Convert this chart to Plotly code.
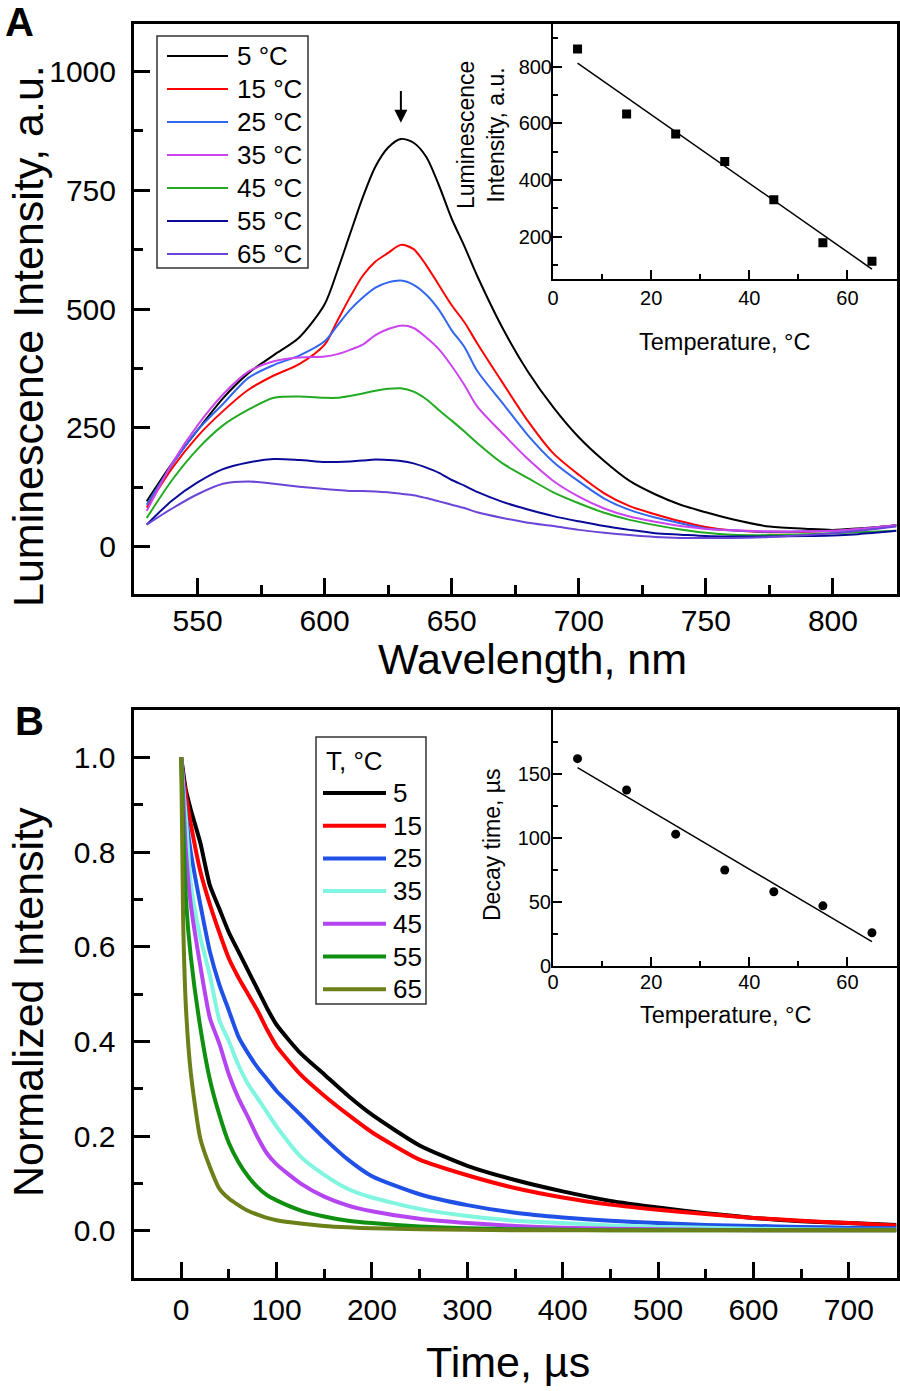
import plotly.graph_objects as go

W, H = 900, 1391
FONT = "Liberation Sans, Arial, sans-serif"

# ---------------- Panel A: luminescence spectra ----------------
wavelength = [530, 540, 550, 560, 570, 580, 590, 600, 605, 610, 615, 620, 625, 630,
              635, 640, 645, 650, 655, 660, 670, 680, 690, 700, 710, 720, 730, 740,
              750, 760, 775, 790, 800, 810, 825]

spec_5 = [95, 175, 245, 312, 365, 403, 440, 510, 580, 658, 735, 800, 840, 858,
          850, 820, 760, 690, 632, 570, 460, 368, 293, 230, 180, 138, 110, 88,
          72, 58, 42, 37, 35, 38, 45]
spec_15 = [82, 165, 232, 285, 330, 360, 384, 425, 475, 525, 570, 600, 618, 635,
           626, 592, 550, 508, 472, 428, 345, 264, 196, 151, 112, 85, 68, 53,
           41, 34, 30, 31, 33, 37, 45]
spec_25 = [88, 172, 245, 300, 355, 382, 402, 432, 465, 498, 524, 545, 556, 560,
           551, 530, 498, 455, 420, 370, 302, 234, 178, 137, 101, 77, 61, 49,
           38, 34, 31, 32, 33, 37, 45]
spec_35 = [75, 175, 255, 320, 368, 390, 398, 400, 405, 414, 425, 445, 458, 465,
           460, 440, 415, 380, 340, 295, 238, 184, 138, 105, 80, 63, 52, 43,
           37, 34, 32, 32, 33, 37, 45]
spec_45 = [60, 140, 205, 255, 288, 313, 316, 313, 313, 317, 322, 328, 332, 333,
           326, 310, 287, 265, 242, 218, 175, 144, 114, 91, 71, 56, 45, 36,
           29, 25, 24, 26, 28, 30, 33]
spec_55 = [46, 97, 135, 163, 177, 184, 182, 178, 178, 179, 181, 183, 182, 180,
           175, 166, 155, 140, 128, 115, 94, 78, 64, 53, 43, 35, 28, 25,
           22, 21, 21, 22, 23, 26, 33]
spec_65 = [46, 80, 110, 132, 137, 132, 126, 121, 119, 117, 117, 116, 114, 111,
           108, 102, 95, 88, 81, 72, 60, 50, 43, 35, 29, 24, 20, 18,
           18, 18, 20, 24, 28, 33, 42]

spectra = [spec_5, spec_15, spec_25, spec_35, spec_45, spec_55, spec_65]
spec_labels = ["5 °C", "15 °C", "25 °C", "35 °C", "45 °C", "55 °C", "65 °C"]
spec_colors = ["#000000", "#ff0000", "#3366ee", "#cc44ee", "#22aa22", "#0a0a99", "#6a45d8"]

# inset A: peak intensity vs temperature
temp_pts = [5, 15, 25, 35, 45, 55, 65]
lum_pts = [862, 632, 562, 465, 330, 178, 113]
fit_T = [5, 65]
lum_fit = [812, 85]

# ---------------- Panel B: decay curves ----------------
time_us = [0, 2, 5, 10, 20, 30, 40, 50, 60, 70, 80, 90, 100, 125, 150, 175, 200,
           250, 300, 350, 400, 450, 500, 550, 600, 650, 700, 750]

decay_5 = [1.0, 0.97, 0.93, 0.89, 0.82, 0.73, 0.68, 0.63, 0.59, 0.55, 0.51, 0.47, 0.435,
           0.375, 0.33, 0.285, 0.245, 0.18, 0.137, 0.107, 0.083, 0.063, 0.049, 0.037,
           0.027, 0.02, 0.016, 0.012]
decay_15 = [1.0, 0.96, 0.92, 0.86, 0.76, 0.69, 0.63, 0.575, 0.535, 0.5, 0.465, 0.425, 0.39,
            0.33, 0.285, 0.245, 0.208, 0.15, 0.117, 0.09, 0.07, 0.055, 0.044, 0.035,
            0.027, 0.021, 0.016, 0.011]
decay_25 = [1.0, 0.95, 0.88, 0.8, 0.69, 0.59, 0.52, 0.465, 0.41, 0.375, 0.345, 0.32, 0.295,
            0.245, 0.195, 0.15, 0.115, 0.077, 0.054, 0.038, 0.028, 0.021, 0.016, 0.012,
            0.01, 0.008, 0.006, 0.005]
decay_35 = [1.0, 0.94, 0.87, 0.735, 0.62, 0.54, 0.445, 0.4, 0.35, 0.31, 0.28, 0.25, 0.22,
            0.157, 0.118, 0.088, 0.07, 0.046, 0.031, 0.021, 0.016, 0.011, 0.008, 0.006,
            0.004, 0.003, 0.002, 0.002]
decay_45 = [1.0, 0.92, 0.8, 0.69, 0.56, 0.45, 0.395, 0.33, 0.28, 0.24, 0.198, 0.163, 0.14,
            0.1, 0.072, 0.053, 0.041, 0.025, 0.016, 0.01, 0.006, 0.004, 0.003, 0.002,
            0.001, 0.001, 0.001, 0.001]
decay_55 = [1.0, 0.86, 0.7, 0.58, 0.43, 0.32, 0.245, 0.185, 0.145, 0.115, 0.092, 0.075, 0.064,
            0.043, 0.03, 0.021, 0.016, 0.009, 0.005, 0.003, 0.002, 0.001, 0.001, 0.001,
            0.001, 0.001, 0.001, 0.001]
decay_65 = [1.0, 0.66, 0.47, 0.335, 0.195, 0.135, 0.089, 0.068, 0.054, 0.042, 0.034, 0.027, 0.022,
            0.015, 0.01, 0.007, 0.005, 0.003, 0.002, 0.001, 0.001, 0.001, 0.001, 0.001,
            0.001, 0.001, 0.001, 0.001]

decays = [decay_5, decay_15, decay_25, decay_35, decay_45, decay_55, decay_65]
decay_labels = ["5", "15", "25", "35", "45", "55", "65"]
decay_colors = ["#000000", "#ff0000", "#2050e6", "#80f5e0", "#b545f0", "#109010", "#6b8018"]

# inset B: decay time vs temperature
tau_pts = [162, 137.5, 103, 75, 58, 47, 26]
tau_fit = [155, 19]


def fx(p):
    return p / W


def fy(p):
    return 1 - p / H


def ax_style(size, tlen, mlen, lw, dtick, mdtick, rng):
    return dict(range=rng, showline=True, linecolor="black", linewidth=lw, mirror=True,
                ticks="inside", ticklen=tlen, tickwidth=lw, tickcolor="black",
                dtick=dtick, tick0=0, showgrid=False, zeroline=False, automargin=False,
                minor=dict(ticks="inside", ticklen=mlen, tickwidth=lw, dtick=mdtick,
                           tickcolor="black", showgrid=False),
                tickfont=dict(family=FONT, size=size, color="black"))


fig = go.Figure()

for vals, name, col in zip(spectra, spec_labels, spec_colors):
    fig.add_trace(go.Scatter(x=wavelength, y=vals, mode="lines", name=name,
                             line=dict(color=col, width=2, shape="spline", smoothing=0.8),
                             xaxis="x", yaxis="y"))

fig.add_trace(go.Scatter(x=fit_T, y=lum_fit, mode="lines", line=dict(color="black", width=1.5),
                         xaxis="x2", yaxis="y2"))
fig.add_trace(go.Scatter(x=temp_pts, y=lum_pts, mode="markers",
                         marker=dict(symbol="square", size=9, color="black"),
                         xaxis="x2", yaxis="y2"))

for vals, name, col in zip(decays, decay_labels, decay_colors):
    fig.add_trace(go.Scatter(x=time_us, y=vals, mode="lines", name=name,
                             line=dict(color=col, width=4, shape="spline", smoothing=0.6),
                             xaxis="x3", yaxis="y3"))

fig.add_trace(go.Scatter(x=fit_T, y=tau_fit, mode="lines", line=dict(color="black", width=1.5),
                         xaxis="x4", yaxis="y4"))
fig.add_trace(go.Scatter(x=temp_pts, y=tau_pts, mode="markers",
                         marker=dict(symbol="circle", size=9, color="black"),
                         xaxis="x4", yaxis="y4"))

# axes
xa = ax_style(30, 16, 9, 3, 50, 25, [525, 825])
xa.update(domain=[fx(134), fx(896.5)], anchor="y", ticklabelstandoff=-2)
ya = ax_style(30, 16, 9, 3, 250, 125, [-100, 1100])
ya.update(domain=[fy(594), fy(24)], anchor="x", ticklabelstandoff=9)

xa2 = ax_style(20, 9, 5, 2, 20, 10, [0, 70])
xa2.update(domain=[fx(553), fx(896.5)], anchor="y2", tickvals=[0, 20, 40, 60])
ya2 = ax_style(20, 9, 5, 2, 200, 100, [50, 950])
ya2.update(domain=[fy(279), fy(24)], anchor="x2", tickvals=[200, 400, 600, 800],
           ticklabelstandoff=-5)

xa3 = ax_style(30, 16, 9, 3, 100, 50, [-50, 750])
xa3.update(domain=[fx(133.5), fx(896.5)], anchor="y3", ticklabelstandoff=3)
ya3 = ax_style(30, 16, 9, 3, 0.2, 0.1, [-0.1, 1.1])
ya3.update(domain=[fy(1278), fy(710)], anchor="x3", tickformat=".1f", ticklabelstandoff=9)

xa4 = ax_style(20, 9, 5, 2, 20, 10, [0, 70])
xa4.update(domain=[fx(553), fx(896.5)], anchor="y4", tickvals=[0, 20, 40, 60],
           ticklabelstandoff=-3)
ya4 = ax_style(20, 9, 5, 2, 50, 25, [0, 200])
ya4.update(domain=[fy(966), fy(710)], anchor="x4", tickvals=[0, 50, 100, 150],
           ticklabelstandoff=-4)

shapes = []
annotations = []


def label(x, y, text, size, angle=0, xanchor="center", bold=False):
    annotations.append(dict(x=fx(x), y=fy(y), xref="paper", yref="paper", text=text,
                            showarrow=False, textangle=angle, xanchor=xanchor, yanchor="middle",
                            font=dict(family=FONT, size=size, color="black",
                                      weight="bold" if bold else "normal")))


# panel letters
label(19, 22, "A", 40, bold=True)
label(29, 721, "B", 40, bold=True)

# main axis titles
label(28, 336, "Luminescence Intensity, a.u.", 43, angle=-90)
label(532, 659, "Wavelength, nm", 43)
label(28, 1002, "Normalized Intensity", 43, angle=-90)
label(508, 1362, "Time, µs", 43)

# inset titles
label(481, 135, "Luminescence<br>Intensity, a.u.", 23, angle=-90)
label(724, 342, "Temperature, °C", 23.5)
label(492, 844, "Decay time, µs", 23, angle=-90)
label(725, 1015, "Temperature, °C", 23.5)

# arrow at the peak
annotations.append(dict(x=630, y=892, xref="x", yref="y", ax=630, ay=962, axref="x", ayref="y",
                        showarrow=True, arrowhead=2, arrowsize=1.3, arrowwidth=2,
                        arrowcolor="black", text=""))

# legend A (drawn by hand)
shapes.append(dict(type="rect", xref="paper", yref="paper", x0=fx(157), x1=fx(308),
                   y0=fy(268), y1=fy(36), line=dict(color="#333333", width=1.5),
                   fillcolor="white"))
for i, (name, col) in enumerate(zip(spec_labels, spec_colors)):
    yy = 56 + 33 * i
    shapes.append(dict(type="line", xref="paper", yref="paper", x0=fx(167), x1=fx(228),
                       y0=fy(yy), y1=fy(yy), line=dict(color=col, width=2)))
    label(235, yy, name, 26, xanchor="left")

# legend B (drawn by hand)
shapes.append(dict(type="rect", xref="paper", yref="paper", x0=fx(316), x1=fx(426),
                   y0=fy(1004), y1=fy(737), line=dict(color="#333333", width=1.5),
                   fillcolor="white"))
label(324, 761, "T, °C", 26, xanchor="left")
for i, (name, col) in enumerate(zip(decay_labels, decay_colors)):
    yy = 793 + 32.7 * i
    shapes.append(dict(type="line", xref="paper", yref="paper", x0=fx(323), x1=fx(386),
                       y0=fy(yy), y1=fy(yy), line=dict(color=col, width=4)))
    label(391, yy, name, 26, xanchor="left")

fig.update_layout(
    width=W, height=H,
    margin=dict(l=0, r=0, t=0, b=0),
    paper_bgcolor="white", plot_bgcolor="white",
    showlegend=False,
    xaxis=xa, yaxis=ya, xaxis2=xa2, yaxis2=ya2,
    xaxis3=xa3, yaxis3=ya3, xaxis4=xa4, yaxis4=ya4,
    shapes=shapes, annotations=annotations,
)

# drop the browser's default 8px body margin so the figure fills the window
fig.write_html("out.html", config={"displayModeBar": False},
               post_script="document.body.style.margin='0';")
